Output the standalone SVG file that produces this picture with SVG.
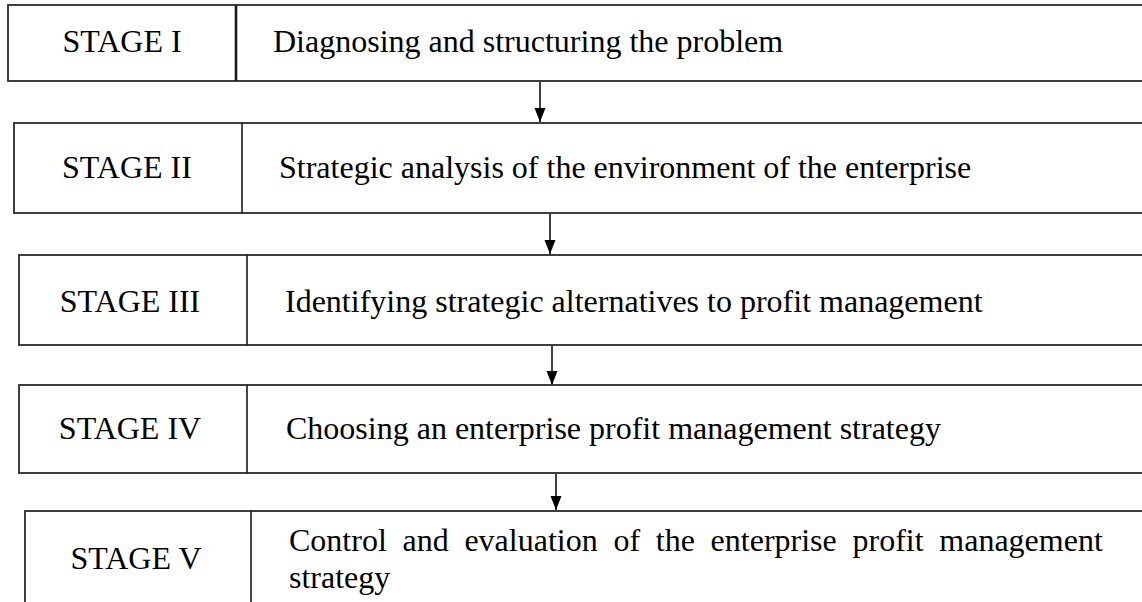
<svg xmlns="http://www.w3.org/2000/svg" width="1142" height="602" viewBox="0 0 1142 602">
<style>
.box{fill:#fff;stroke:#2a2a2a;stroke-width:1.8}
.div{stroke:#1a1a1a;stroke-width:1.6}
.t{font-family:"Liberation Serif","Times New Roman",serif;font-size:32px;fill:#000}
.c{text-anchor:middle}
.conn{stroke:#000;stroke-width:1.5;fill:none}
</style>
<defs>
<marker id="ah" markerUnits="userSpaceOnUse" markerWidth="16" markerHeight="12" refX="14" refY="5.5" orient="auto">
<path d="M0,0 L14,5.5 L0,11 Z" fill="#000"/>
</marker>
</defs>
<rect width="1142" height="602" fill="#fff"/>
<g id="connectors">
<line class="conn" x1="540" y1="82" x2="540" y2="122" marker-end="url(#ah)"/>
<line class="conn" x1="550" y1="214" x2="550" y2="254" marker-end="url(#ah)"/>
<line class="conn" x1="552" y1="346" x2="552" y2="385" marker-end="url(#ah)"/>
<line class="conn" x1="556" y1="474" x2="556" y2="510" marker-end="url(#ah)"/>
</g>
<g id="stage1">
<rect class="box" x="8" y="5" width="1150" height="76"/>
<line class="div" x1="236" y1="5" x2="236" y2="81" style="stroke-width:2.6"/>
<text class="t c" x="122" y="52">STAGE I</text>
<text class="t" x="273" y="52">Diagnosing and structuring the problem</text>
</g>
<g id="stage2">
<rect class="box" x="14" y="123" width="1150" height="90"/>
<line class="div" x1="242" y1="123" x2="242" y2="213"/>
<text class="t c" x="127" y="178">STAGE II</text>
<text class="t" x="279" y="178">Strategic analysis of the environment of the enterprise</text>
</g>
<g id="stage3">
<rect class="box" x="19" y="255" width="1150" height="90"/>
<line class="div" x1="247" y1="255" x2="247" y2="345"/>
<text class="t c" x="130" y="312">STAGE III</text>
<text class="t" x="285" y="312">Identifying strategic alternatives to profit management</text>
</g>
<g id="stage4">
<rect class="box" x="19" y="385" width="1150" height="88"/>
<line class="div" x1="247" y1="385" x2="247" y2="473"/>
<text class="t c" x="130" y="439">STAGE IV</text>
<text class="t" x="286" y="439">Choosing an enterprise profit management strategy</text>
</g>
<g id="stage5">
<rect class="box" x="25" y="511" width="1150" height="110"/>
<line class="div" x1="251" y1="511" x2="251" y2="621"/>
<text class="t c" x="136" y="569">STAGE V</text>
<text class="t" y="551"><tspan x="289">Control</tspan> <tspan x="402.5">and</tspan> <tspan x="464.4">evaluation</tspan> <tspan x="613.4">of</tspan> <tspan x="655.8">the</tspan> <tspan x="710.6">enterprise</tspan> <tspan x="852.5">profit</tspan> <tspan x="939.3">management</tspan></text>
<text class="t" x="289" y="588">strategy</text>
</g>
</svg>
